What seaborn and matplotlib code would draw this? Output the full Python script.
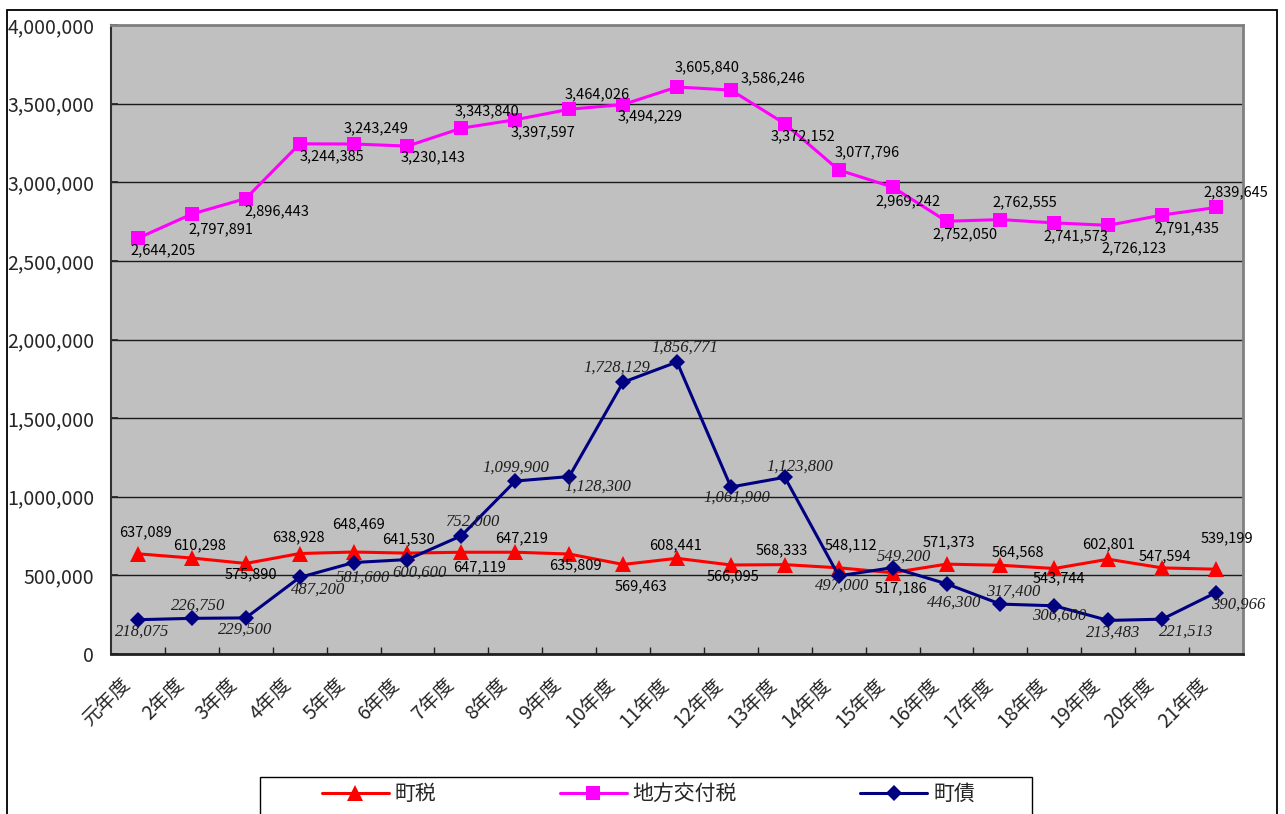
import matplotlib
matplotlib.use("Agg")
import matplotlib.pyplot as plt
import matplotlib.transforms as mtransforms
from matplotlib.patches import Rectangle
from matplotlib.ticker import FuncFormatter, MultipleLocator
import seaborn as sns
import pandas as pd

# 年度
years = ["元年度"] + [f"{i}年度" for i in range(2, 22)]

# 町税
town_tax = [637089, 610298, 575890, 638928, 648469, 641530, 647119, 647219,
            635809, 569463, 608441, 566095, 568333, 548112, 517186, 571373,
            564568, 543744, 602801, 547594, 539199]

# 地方交付税
grant_tax = [2644205, 2797891, 2896443, 3244385, 3243249, 3230143, 3343840,
             3397597, 3464026, 3494229, 3605840, 3586246, 3372152, 3077796,
             2969242, 2752050, 2762555, 2741573, 2726123, 2791435, 2839645]

# 町債
town_bond = [218075, 226750, 229500, 487200, 581600, 600600, 752000, 1099900,
             1128300, 1728129, 1856771, 1061900, 1123800, 497000, 549200,
             446300, 317400, 306600, 213483, 221513, 390966]

series_names = ["町税", "地方交付税", "町債"]

# value-label offsets in pixels (right, up) from each marker
tax_offsets = [(8, 22), (8, 13), (5, -11), (-1, 16), (5, 28), (1, 14), (18, -15),
               (6, 14), (6, -11), (18, -22), (-1, 13), (2, -11), (-3, 14),
               (12, 23), (8, -16), (2, 22), (17, 13), (5, -10), (0, 15),
               (3, 12), (11, 31)]
grant_offsets = [(25, -12), (29, -15), (31, -13), (32, -12), (22, 16), (26, -11),
                 (26, 17), (28, -13), (28, 15), (27, -12), (30, 20), (42, 12),
                 (18, -13), (28, 18), (15, -14), (18, -13), (24, 17), (22, -13),
                 (26, -23), (25, -13), (20, 15)]
bond_offsets = [(4, -12), (6, 13), (-1, -12), (18, -12), (9, -15), (12, -13),
                (11, 14), (1, 13), (29, -10), (-6, 15), (8, 14), (6, -11),
                (15, 11), (3, -10), (11, 11), (8, -19), (13, 12), (5, -10),
                (5, -12), (24, -12), (22, -12)]

df = pd.DataFrame({
    "年度": years * 3,
    "金額": town_tax + grant_tax + town_bond,
    "区分": sum([[n] * len(years) for n in series_names], []),
})

sns.set_theme(style="white")
plt.rcParams["font.family"] = ["Noto Sans CJK JP", "DejaVu Sans"]

W, H = 1285, 814
fig = plt.figure(figsize=(W / 100, H / 100), dpi=100)
fig.patch.set_facecolor("white")

# outer chart frame
fig.patches.append(Rectangle((7 / W, -0.1), (1277 - 7) / W, 1 - 10 / H + 0.1,
                             transform=fig.transFigure, fill=False,
                             edgecolor="black", linewidth=1.3, zorder=0))

ax = fig.add_axes([111 / W, 1 - 654 / H, (1243 - 111) / W, (654 - 25) / H])
ax.set_facecolor("#C0C0C0")

styles = {
    "町税": dict(color="#FF0000", marker="^", markersize=11),
    "地方交付税": dict(color="#FF00FF", marker="s", markersize=10.5),
    "町債": dict(color="#000080", marker="D", markersize=8.5),
}

for name in series_names:
    st = styles[name]
    sns.lineplot(data=df[df["区分"] == name], x="年度", y="金額", ax=ax,
                 color=st["color"], marker=st["marker"],
                 markersize=st["markersize"], markeredgecolor=st["color"],
                 markeredgewidth=0, linewidth=2.2, label=name,
                 sort=False, errorbar=None, zorder=3)

ax.set_xlim(-0.5, len(years) - 0.5)
ax.set_ylim(0, 4000000)
ax.yaxis.set_major_locator(MultipleLocator(500000))
ax.yaxis.set_major_formatter(FuncFormatter(lambda v, _: f"{int(v):,}"))
ax.grid(axis="y", color="#1a1a1a", linewidth=1.0)
ax.grid(axis="x", visible=False)
ax.set_axisbelow(True)
ax.set_xlabel("")
ax.set_ylabel("")

# value labels
label_font = dict(family=["Noto Sans CJK JP", "DejaVu Sans"], size=10.5, color="black")
bond_font = dict(family=["Liberation Serif"], style="italic", size=12, color="#1e1e1e")
for vals, offs, font in [(grant_tax, grant_offsets, label_font),
                         (town_tax, tax_offsets, label_font),
                         (town_bond, bond_offsets, bond_font)]:
    for i, (v, (dx, dy)) in enumerate(zip(vals, offs)):
        ax.annotate(f"{v:,}", xy=(i, v), xytext=(dx, dy),
                    textcoords="offset pixels", ha="center", va="center",
                    zorder=5, **font)

# ticks
ax.set_xticks(range(len(years)))
ax.set_xticklabels(years)
ax.set_xticks([i + 0.5 for i in range(len(years) - 1)], minor=True)
ax.tick_params(axis="x", which="major", length=0, pad=20, labelsize=14)
ax.tick_params(axis="x", which="minor", direction="in", length=5, width=1,
               color="#202020", bottom=True)
ax.tick_params(axis="y", which="major", direction="in", length=5,
               labelsize=14, pad=12, left=True)
shift = mtransforms.ScaledTranslation(-11 / 100, 0, fig.dpi_scale_trans)
for lbl in ax.get_xticklabels():
    lbl.set_rotation(45)
    lbl.set_ha("right")
    lbl.set_va("center")
    lbl.set_rotation_mode("anchor")
    lbl.set_transform(lbl.get_transform() + shift)

for side in ["top", "right"]:
    ax.spines[side].set_color("#808080")
    ax.spines[side].set_linewidth(2)
ax.spines["left"].set_color("#303030")
ax.spines["left"].set_linewidth(1.5)
ax.spines["bottom"].set_color("#202020")
ax.spines["bottom"].set_linewidth(2)
for sp in ax.spines.values():
    sp.set_visible(True)

# legend box
handles, labels = ax.get_legend_handles_labels()
ax.get_legend().remove()
fig.patches.append(Rectangle((260 / W, -0.1), (1032 - 260) / W, 1 - 777 / H + 0.1,
                             transform=fig.transFigure, facecolor="white",
                             edgecolor="black", linewidth=1.0, zorder=1))
fig.legend(handles, labels, loc="upper left", ncol=3, mode="expand",
           bbox_to_anchor=(322 / W, 1 - 783 / H, (975 - 322) / W, 0.0),
           frameon=False, borderpad=0, borderaxespad=0, handlelength=3.2,
           handletextpad=0.3, prop={"size": 15})

fig.savefig("out.png", dpi=100)
